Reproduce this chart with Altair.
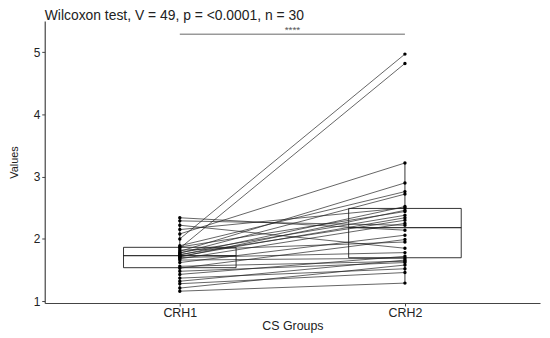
import altair as alt
import pandas as pd

groups = ["CRH1", "CRH2"]
crh1 = [1.16, 1.21, 1.28, 1.32, 1.37, 1.43, 1.48, 1.53, 1.56, 1.62,
        1.66, 1.68, 1.70, 1.71, 1.72, 1.74, 1.75, 1.77, 1.78, 1.80,
        1.82, 1.85, 1.87, 1.89, 2.00, 2.08, 2.15, 2.22, 2.29, 2.34]
crh2 = [1.29, 1.58, 1.46, 1.66, 1.52, 1.72, 1.62, 1.99, 1.64, 2.06,
        1.69, 2.25, 1.78, 2.46, 2.34, 2.52, 2.30, 2.72, 2.38, 2.90,
        1.95, 4.82, 2.44, 2.76, 4.97, 3.22, 2.50, 1.85, 2.22, 2.14]
stars = ["****"]
title_text = "Wilcoxon test, V = 49, p = <0.0001, n = 30"

rows = []
for i, (a, b) in enumerate(zip(crh1, crh2)):
    rows.append({"id": i, "group": groups[0], "gx": 1, "value": a})
    rows.append({"id": i, "group": groups[1], "gx": 2, "value": b})
df = pd.DataFrame(rows)

FONT = "Liberation Sans"
xs = alt.Scale(domain=[0.4, 2.6], nice=False, zero=False)
ys = alt.Scale(domain=[0.97, 5.5], nice=False, zero=False)
label_expr = "datum.value == 1 ? '%s' : '%s'" % (groups[0], groups[1])
xaxis = alt.Axis(values=[1, 2], labelExpr=label_expr, title="CS Groups", grid=False,
                 labelFontSize=12.5, titleFontSize=12.5, labelPadding=1, titlePadding=0)
yaxis = alt.Axis(values=[1, 2, 3, 4, 5], format="d", title="Values", grid=False,
                 labelFontSize=12, titleFontSize=11, labelPadding=2, titlePadding=14)

box = alt.Chart(df).transform_aggregate(
    q1="q1(value)", med="median(value)", q3="q3(value)", groupby=["gx"]
).transform_calculate(xa="datum.gx - 0.25", xb="datum.gx + 0.25")

rect = box.mark_rect(fill="white", stroke="black", strokeWidth=0.8).encode(
    x=alt.X("xa:Q", scale=xs, axis=xaxis), x2="xb:Q",
    y=alt.Y("q1:Q", scale=ys, axis=yaxis), y2="q3:Q")
median = box.mark_rule(color="black", strokeWidth=1).encode(
    x=alt.X("xa:Q", scale=xs, axis=xaxis), x2="xb:Q",
    y=alt.Y("med:Q", scale=ys, axis=yaxis))

wh = alt.Chart(df).transform_joinaggregate(
    q1="q1(value)", q3="q3(value)", groupby=["gx"]
).transform_calculate(
    lo="datum.q1 - 1.5*(datum.q3 - datum.q1)", hi="datum.q3 + 1.5*(datum.q3 - datum.q1)"
).transform_filter("datum.value >= datum.lo && datum.value <= datum.hi").transform_aggregate(
    wmin="min(value)", wmax="max(value)", bq1="max(q1)", bq3="max(q3)", groupby=["gx"])
lower = wh.mark_rule(color="black", strokeWidth=0.8).encode(
    x=alt.X("gx:Q", scale=xs, axis=xaxis), y=alt.Y("wmin:Q", scale=ys, axis=yaxis), y2="bq1:Q")
upper = wh.mark_rule(color="black", strokeWidth=0.8).encode(
    x=alt.X("gx:Q", scale=xs, axis=xaxis), y=alt.Y("bq3:Q", scale=ys, axis=yaxis), y2="wmax:Q")

lines = alt.Chart(df).mark_line(color="#222222", strokeWidth=0.7).encode(
    x=alt.X("gx:Q", scale=xs, axis=xaxis), y=alt.Y("value:Q", scale=ys, axis=yaxis),
    detail="id:N")
points = alt.Chart(df).mark_circle(color="black", size=12, opacity=1).encode(
    x=alt.X("gx:Q", scale=xs, axis=xaxis), y=alt.Y("value:Q", scale=ys, axis=yaxis))

sig = alt.Chart(pd.DataFrame({"label": stars}))
bracket = sig.mark_rule(color="#555555", strokeWidth=0.9).encode(
    x=alt.datum(1, scale=xs), x2=alt.datum(2), y=alt.datum(5.29, scale=ys))
star_text = sig.mark_text(color="#555555", fontSize=10, font=FONT, baseline="middle").encode(
    x=alt.datum(1.5, scale=xs), y=alt.datum(5.36, scale=ys), text="label:N")

chart = alt.layer(rect, median, lower, upper, lines, points, bracket, star_text).properties(
    width=499, height=284,
    padding={"left": 0, "top": 0, "right": 2, "bottom": 0},
    title=alt.TitleParams(title_text, anchor="start", fontSize=14, font=FONT,
                          fontWeight="normal", color="#222222", offset=-2, frame="group"),
).configure_view(stroke=None).configure_axis(
    domainColor="#444444", tickColor="#444444", labelColor="#222222", titleColor="#222222",
    labelFont=FONT, titleFont=FONT, titleFontWeight="normal", tickSize=3, domainWidth=1.2)

chart.save("out.html", embed_options={"renderer": "svg", "actions": False})
